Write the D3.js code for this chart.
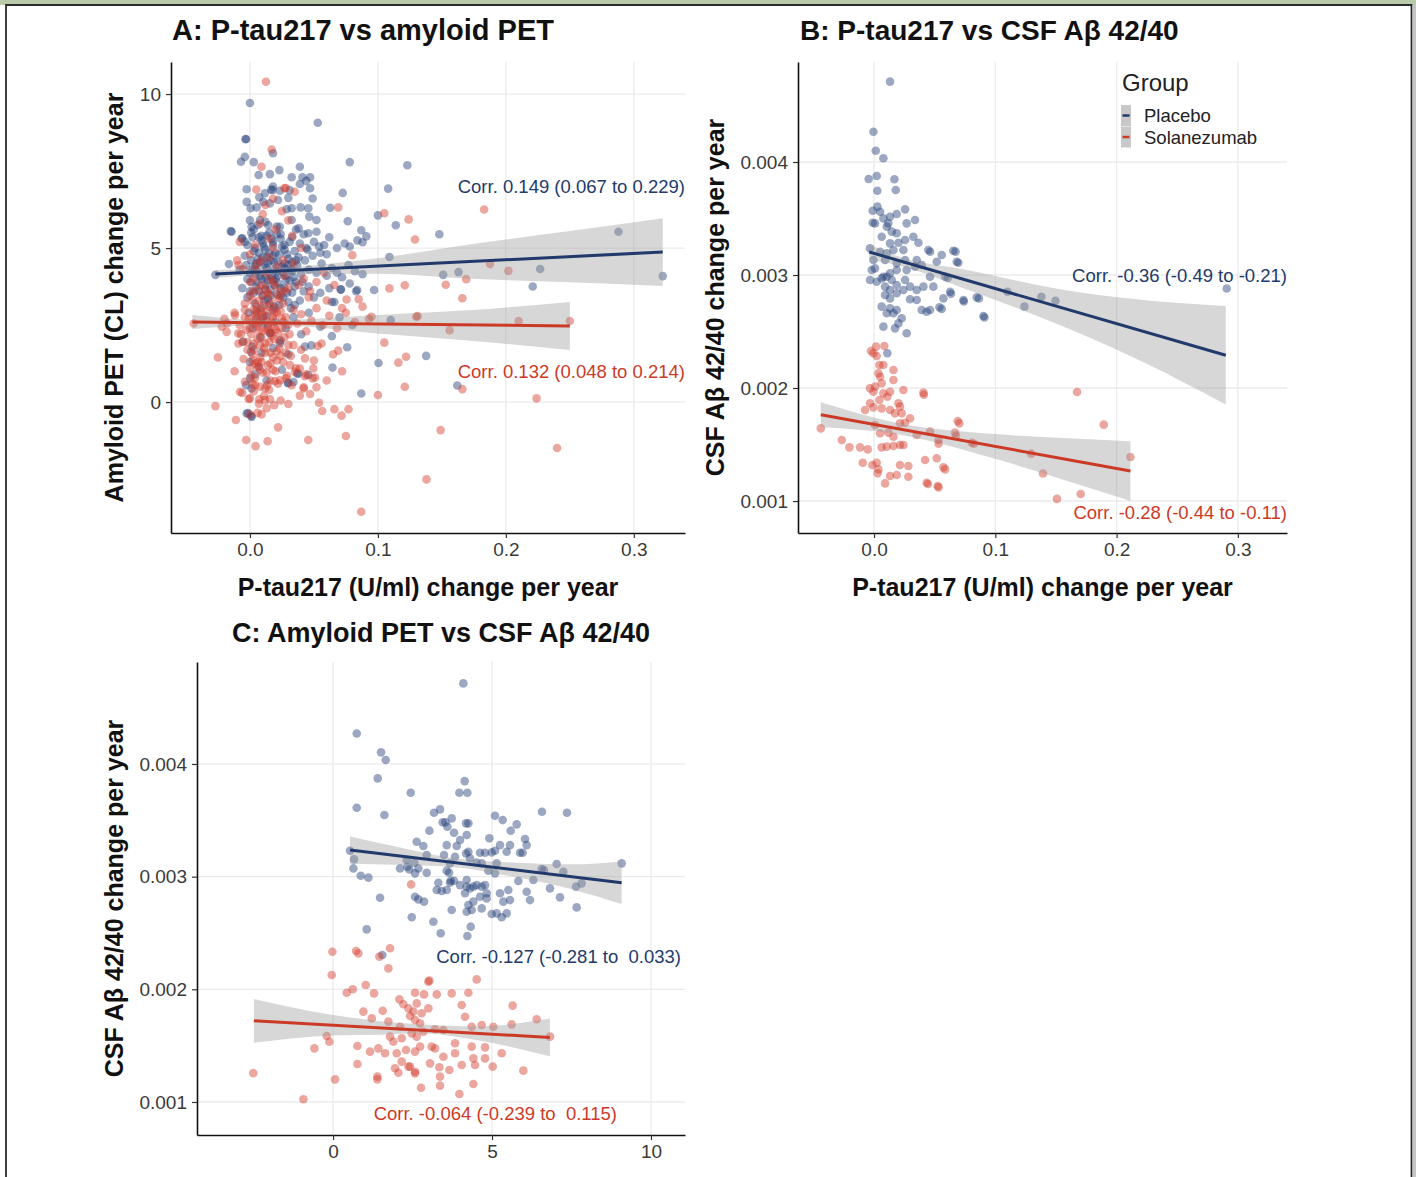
<!DOCTYPE html>
<html>
<head>
<meta charset="utf-8">
<script src="https://cdn.jsdelivr.net/npm/d3@7"></script>
<style>
  body { margin: 0; background: #fff; }
  svg { display: block; font-family: "Liberation Sans", Arial, Helvetica, sans-serif; }
</style>
</head>
<body>
<svg id="chart" width="1416" height="1177"></svg>
<script>
// ── data: panel A (P-tau217 change vs amyloid PET change) ──
const placeboA = [
  [0.0,9.71],[0.053,9.07],[-0.0035,8.53],[0.123,7.69],[0.078,7.79],[0.108,6.93],[0.100,6.06],[0.114,5.74],
  [0.0725,6.79],[0.0627,6.31],[0.0764,5.87],[0.087,5.58],[0.091,5.38],[0.088,5.19],[0.148,5.45],[0.288,5.53],
  [0.3226,4.09],[0.2268,4.32],[0.221,3.75],[0.163,4.22],[0.151,4.13],[0.109,4.71],[0.097,3.64],[0.0838,3.64],
  [0.071,3.66],[0.064,3.25],[0.11,2.66],[0.1377,1.50],[0.1005,1.27],[0.0645,1.12],[0.162,0.54],[0.087,0.28],
  [0.076,1.78],[0.064,2.14],[0.048,1.84],[0.0377,0.92],[0.0295,0.63],[-0.0015,-0.36],[0.001,-0.45],
  [-0.0164,4.48],[-0.015,5.55],[-0.027,4.13],[-0.006,5.32],
  [-0.003,8.54],[-0.004,7.96],[-0.007,7.80],[0.003,7.79],[0.018,8.08],[0.0068,7.37],[0.0156,7.40],[0.023,7.53],
  [0.0166,6.9],[0.018,7.0],[0.0326,7.30],[0.039,7.64],[0.041,7.30],[0.047,7.30],[-0.0026,6.91],[0.0073,6.65],
  [0.0117,6.78],[0.0177,6.88],[0.0234,6.86],[0.030,6.63],[0.031,6.88],[0.039,7.08],[0.044,7.18],[0.047,6.94],
  [0.049,6.61],[-0.0026,6.50],[0.0005,6.29],[0.0052,6.32],[0.0104,6.50],[0.0156,6.45],[0.022,6.56],[0.0287,6.26],
  [0.0326,6.29],[0.0396,6.32],[0.0456,6.29],[0.0464,6.02],[0.052,5.91],[-0.0143,5.53],[-0.0065,5.31],[0.0013,5.69],
  [0.0078,5.91],[0.0143,5.75],[0.0234,5.69],[0.0326,5.91],[0.038,5.64],[0.0456,5.48],[0.052,5.53],
  [0.0,5.9],[0.003,5.6],[0.006,5.75],[0.009,5.4],[0.012,5.85],[0.015,5.5],[0.018,5.2],[0.021,5.7],[0.024,5.45],
  [0.027,5.1],[0.033,5.35],[0.036,5.6],[0.039,5.15],[0.042,5.45],[0.05,5.2],[0.054,5.05],[0.058,5.1],[0.062,5.35],
  [0.068,5.0],[0.074,5.15],[0.078,5.05],[0.084,5.25],[-0.002,5.1],[0.011,5.05],[0.044,5.0],
  [-0.008,4.3],[-0.004,4.75],[0.0,4.2],[0.003,4.9],[0.005,4.5],[0.008,4.1],[0.01,4.7],[0.013,4.35],[0.015,4.85],
  [0.017,4.05],[0.019,4.55],[0.021,4.25],[0.023,4.8],[0.025,4.4],[0.028,4.1],[0.03,4.65],[0.032,4.3],[0.035,4.9],
  [0.037,4.45],[0.04,4.15],[0.043,4.6],[0.046,4.3],[0.049,4.75],[0.052,4.2],[0.056,4.5],[0.06,4.1],[0.064,4.35],
  [0.068,4.2],[0.072,4.05],[0.077,4.45],[0.082,4.25],[0.088,4.15],[0.06,4.8],[0.012,4.95],[0.006,4.25],[0.027,4.95],
  [0.045,4.95],[0.055,4.85],
  [0.001,4.6],[0.004,4.15],[0.007,4.85],[0.011,4.45],[0.014,3.95],[0.016,4.6],[0.018,5.1],[0.02,4.0],[0.022,4.55],
  [0.026,4.2],[0.029,4.8],[0.031,3.95],[0.033,4.55],[0.009,5.25],[0.013,5.4],[0.024,5.3],[0.005,3.75],[0.01,3.45],
  [0.015,3.2],[0.021,3.5],[0.028,3.95],[0.038,4.7],[0.041,3.9],[0.002,5.35],[-0.003,4.45],[0.019,4.3],[0.027,4.5],
  [0.006,4.65],[0.034,4.05],[0.012,4.05],
  [0.002,4.3],[0.004,5.0],[0.006,3.9],[0.008,4.55],[0.01,5.15],[0.012,3.65],[0.013,4.7],[0.015,4.2],[0.017,5.3],
  [0.019,3.8],[0.02,4.85],[0.022,4.1],[0.024,3.7],[0.025,5.05],[0.027,4.35],[0.029,3.55],[0.031,5.2],[0.033,4.25],
  [0.035,3.75],[0.036,4.6],[0.0,3.6],[-0.002,4.0],[-0.004,5.2],[0.001,5.5],[0.007,5.35],[0.011,3.3],[0.016,3.45],
  [0.023,3.15],[0.004,4.4],[0.009,4.0],[0.014,4.5],[0.018,4.75],[0.021,5.45],[0.026,3.4],[0.03,4.45],[0.032,3.05],
  [0.005,2.95],[0.01,2.75],[0.014,2.5],[0.018,3.0],
  [-0.006,3.7],[-0.002,3.4],[0.001,3.9],[0.004,3.2],[0.007,3.6],[0.009,3.05],[0.012,3.8],[0.014,3.35],[0.016,3.65],
  [0.019,3.1],[0.022,3.85],[0.024,3.45],[0.027,3.7],[0.03,3.25],[0.033,3.55],[0.036,3.9],[0.039,3.3],[0.042,3.6],
  [0.046,3.75],[0.05,3.4],[0.055,3.55],[0.062,3.7],[0.066,3.25],[0.071,3.65],[0.078,3.85],[0.083,3.6],[0.003,3.55],
  [0.018,3.95],[0.035,3.15],
  [-0.001,2.9],[0.002,2.4],[0.005,2.7],[0.008,2.1],[0.01,2.55],[0.013,2.8],[0.016,2.25],[0.02,2.6],[0.024,2.0],
  [0.028,2.4],[0.034,2.75],[0.04,2.2],[0.046,2.9],[0.055,2.45],[0.07,2.75],[0.08,2.5],[0.002,1.8],[0.009,1.6],
  [0.018,1.75],[0.03,1.55],
  [0.0,1.3],[0.004,0.9],[0.007,1.15],[-0.003,0.55],[0.013,0.7],[0.025,1.05],[0.034,0.65],
  [-0.0052,1.96],[0.0008,1.63],[0.0156,2.23],[0.0234,1.91],[0.030,0.61],[0.037,0.93],[0.043,1.80],[0.0456,0.88],
  [0.0,0.77],[0.0013,0.44],[-0.0026,-0.37],[0.0013,-0.48]
];
const solaA = [
  [0.0125,10.40],[0.017,8.20],[0.009,7.64],[0.027,6.94],[0.035,6.83],[0.069,6.32],[0.105,6.13],[0.124,5.93],
  [0.129,5.28],[0.080,4.77],[0.109,3.69],[0.121,3.79],[0.0755,3.33],[0.085,3.34],[0.130,2.77],[0.095,2.77],
  [0.105,1.93],[0.116,1.28],[0.122,1.47],[0.121,0.50],[0.100,0.23],[-0.025,1.45],[-0.027,-0.13],[-0.011,-0.58],
  [-0.003,-1.23],[0.0044,-1.43],[0.0138,-1.27],[0.022,-0.82],[0.0456,-1.23],[0.075,-1.10],[0.0565,-0.29],
  [0.066,-0.23],[0.0716,-0.44],[0.077,-0.23],[0.054,-0.02],[0.039,0.21],[0.047,0.26],[0.030,-0.06],[0.069,1.67],
  [0.053,1.82],[0.043,1.42],[0.049,0.77],[0.042,0.44],[0.087,-3.56],[0.138,-2.51],[-0.044,2.55],[-0.022,2.45],
  [-0.009,4.45],[0.183,6.25],[0.1876,4.48],[0.202,4.26],[0.153,3.81],[0.169,3.99],[0.166,3.37],[0.131,2.79],
  [0.156,2.33],[0.21,2.63],[0.250,2.63],[0.166,0.42],[0.224,0.12],[0.149,-0.91],[0.240,-1.49],
  [-0.0078,0.33],[0.0,0.12],[0.0073,0.09],[0.0091,-0.40],[0.0117,0.06],[0.0156,0.09],[0.042,0.48],[0.052,0.48],
  [-0.0039,0.66],[0.0039,0.55],[0.0135,0.55],[0.0195,0.68],[0.0234,0.71],[0.0281,0.77],[0.0352,0.98],[0.039,1.09],
  [0.043,0.84],[0.0508,0.80],[0.0495,1.09],[0.0313,1.20],[0.0326,0.55],[-0.0117,2.82],[-0.0182,2.28],[-0.0091,2.23],
  [0.005,6.9],[0.012,6.4],[0.018,6.6],[0.025,6.2],[0.008,5.8],[0.02,5.6],[0.03,5.9],[0.015,5.3],[0.004,5.1],
  [0.033,5.4],[0.04,5.0],[-0.008,5.2],[0.01,6.1],[0.028,6.95],
  [-0.01,4.6],[-0.005,4.3],[0.0,4.8],[0.003,4.0],[0.006,4.5],[0.009,3.8],[0.012,4.2],[0.015,4.7],[0.018,3.9],
  [0.021,4.4],[0.024,3.6],[0.027,4.1],[0.03,3.7],[0.034,4.5],[0.038,3.8],[0.042,4.0],[0.047,3.6],[0.052,3.9],
  [0.058,4.2],[0.002,3.6],[0.014,3.55],[0.02,3.75],[0.066,3.8],
  [-0.012,2.9],[-0.008,2.5],[-0.004,3.2],[-0.001,2.7],[0.001,2.2],[0.003,3.0],[0.005,2.45],[0.007,3.3],[0.009,2.1],
  [0.011,2.8],[0.013,2.35],[0.015,3.1],[0.017,2.6],[0.019,2.05],[0.021,2.9],[0.023,3.35],[0.025,2.4],[0.028,2.75],
  [0.031,2.2],[0.034,3.0],[0.037,2.55],[0.04,2.85],[0.044,2.3],[0.048,2.65],[0.052,3.05],[0.057,2.5],[0.062,2.8],
  [0.068,2.4],[0.075,2.9],[0.082,2.6],[0.088,3.1],[0.093,2.7],[-0.018,2.55],[-0.02,2.7],[0.004,2.85],[0.008,2.65],
  [0.016,2.25],[0.026,3.2],[0.046,3.4],[0.06,3.3],[0.072,3.05],[0.0,3.45],
  [0.001,2.6],[0.003,1.9],[0.005,3.1],[0.007,2.3],[0.009,2.9],[0.011,1.75],[0.013,2.65],[0.015,1.95],[0.017,3.25],
  [0.019,2.45],[0.021,1.65],[0.024,2.95],[0.027,2.1],[-0.003,2.35],[-0.006,1.95],[0.002,1.35],[0.006,2.05],
  [0.01,3.45],[0.014,2.95],[0.018,2.75],[0.022,2.25],[0.026,2.6],[0.03,1.85],[0.004,2.55],[0.008,1.45],[0.016,1.25],
  [0.012,3.7],[0.0,3.9],[-0.004,2.75],[0.02,3.05],
  [0.0,2.4],[0.002,3.3],[0.003,1.7],[0.005,2.8],[0.006,1.15],[0.007,2.55],[0.008,3.0],[0.009,1.3],[0.01,2.3],
  [0.011,3.15],[0.012,1.9],[0.013,0.95],[0.014,2.4],[0.015,3.5],[0.016,1.6],[0.017,2.15],[0.018,1.05],[0.019,2.85],
  [0.02,2.35],[0.021,1.35],[0.022,3.45],[0.023,2.0],[0.024,1.5],[0.025,2.7],[0.027,3.6],[0.028,1.6],[0.03,2.5],
  [-0.002,1.95],[-0.004,3.0],[-0.007,2.2],[0.001,0.85],[0.004,1.25],[0.006,3.65],[0.008,0.5],[0.012,0.45],
  [0.016,4.0],[0.004,4.3],[0.009,4.6],[0.018,5.0],[0.026,4.6],
  [-0.009,1.9],[-0.005,1.4],[-0.002,1.7],[0.0,1.1],[0.002,1.55],[0.004,0.8],[0.006,1.3],[0.008,1.85],[0.01,0.95],
  [0.012,1.6],[0.014,1.2],[0.016,0.7],[0.018,1.45],[0.02,1.0],[0.023,1.75],[0.026,1.3],[0.029,0.85],[0.032,1.5],
  [0.036,1.1],[0.04,1.7],[0.044,0.9],[0.05,1.35],[0.056,1.9],[0.06,0.7],[0.065,1.55],[0.072,1.0],[0.002,0.6],
  [0.008,1.05],[0.022,0.6],[-0.012,1.0],[0.034,1.85],
  [-0.006,0.3],[-0.001,0.1],[0.003,0.35],[0.007,-0.05],[0.011,0.2],[0.015,0.4],[0.019,-0.1],[0.024,0.05],
  [0.006,-0.35],[0.0,-0.4],[0.013,-0.2]
];
const fitPlaceboA = [[-0.027,4.156],[0.3226,4.87]];
const bandPlaceboA = [[-0.027,4.03,4.29],[0.02,4.15,4.35],[0.1,4.17,4.67],[0.17,4.01,5.11],[0.25,3.89,5.55],[0.3226,3.77,5.97]];
const fitSolaA = [[-0.045,2.60],[0.25,2.47]];
const bandSolaA = [[-0.045,2.37,2.83],[0.015,2.50,2.66],[0.1,2.23,2.83],[0.17,2.0,2.98],[0.25,1.69,3.25]];

// ── data: panel B (P-tau217 change vs CSF Aβ42/40 change) ──
const placeboB = [
  [0.0132,0.004711],[-0.0005,0.004268],[0.0014,0.0041],[0.0077,0.004033],[-0.0044,0.00385],[0.0022,0.003876],
  [0.0168,0.003847],[0.0179,0.003752],[0.0027,0.003746],
  [-0.0011,0.003569],[0.0028,0.003605],[0.005,0.00356],[0.0008,0.003457],[-0.0011,0.003462],[0.0077,0.003501],
  [0.0132,0.003516],[0.0118,0.003457],[0.0187,0.00354],[0.0256,0.003581],[0.0338,0.003487],[0.0269,0.003457],
  [0.0146,0.003384],[0.0105,0.003428],[0.0063,0.003339],[0.0187,0.003369],[0.0256,0.00331],[0.0324,0.003339],
  [0.0366,0.003286],[0.0201,0.003286],[0.0132,0.00328],
  [-0.0033,0.003236],[0.005,0.003206],[-0.0005,0.003133],[0.0105,0.003192],[0.016,0.003221],[0.0242,0.003221],
  [0.0256,0.003133],[0.0187,0.003104],[0.0091,0.003133],[-0.0019,0.003044],[0.0008,0.003059],[0.0077,0.002985],
  [0.0132,0.003015],[0.0187,0.003044],[0.0269,0.003044],[0.0338,0.003074],[0.0448,0.003221],[0.0462,0.003206],
  [0.0558,0.003177],[0.0654,0.003215],[0.0682,0.003118],[0.0517,0.003118],[0.0586,0.002985],[0.0462,0.002985],
  [0.0352,0.003133],[0.0393,0.003089],
  [-0.0033,0.002956],[0.0022,0.002941],[0.0063,0.00297],[0.0105,0.002985],[0.0146,0.002956],[0.0091,0.002897],
  [0.0132,0.002867],[0.0187,0.002912],[0.0256,0.002956],[0.0297,0.002897],[0.0352,0.002867],[0.0407,0.002897],
  [0.0489,0.002897],[0.0627,0.002852],[0.0737,0.002779],[0.0847,0.002802],[0.0902,0.002637],[0.0572,0.002793],
  [0.0539,0.002714],[0.0462,0.00269],[0.0434,0.002675],[0.0393,0.00269],[0.0352,0.002779],[0.0297,0.002785],
  [0.0242,0.002867],[0.0187,0.002838],[0.0132,0.002793],[0.0091,0.002823],[0.0063,0.00272],[0.0132,0.002705],
  [0.0105,0.002661],[0.016,0.002661],[0.0187,0.00269],[0.0228,0.002617],[0.0201,0.002572],[0.0173,0.002528],
  [0.0269,0.002484],[0.0077,0.002543],[0.011,0.002307],
  [0.110,0.002852],[0.124,0.00272],[0.138,0.002807],[0.1496,0.002772],[0.2908,0.002881],[0.0865,0.002793],
  [0.091,0.002624],[0.0635,0.002834],[0.0558,0.0027],[0.074,0.002765],[0.0672,0.003207],[0.0695,0.003109],
  [0.0608,0.002975]
];
const solaB = [
  [-0.0439,0.001643],[-0.0266,0.00154],[-0.0203,0.001475],[-0.0115,0.001475],[-0.0052,0.001457],[-0.0093,0.001339],
  [-0.0014,0.001319],[0.0022,0.001339],[0.0036,0.00128],[0.003,0.001245],[0.0091,0.001156],[0.0132,0.001221],
  [0.0187,0.00123],[0.0283,0.00131],[0.0214,0.001319],[0.0283,0.001215],[0.0434,0.001162],[0.0525,0.001133],
  [0.0572,0.001298],[0.0517,0.001378],[0.0421,0.001363],[0.0105,0.001481],[0.0063,0.001475],[0.016,0.001487],
  [0.0214,0.001496],[0.0242,0.001496],[0.0008,0.001673],[0.005,0.001599],[0.0118,0.001605],[0.016,0.001569],
  [0.0214,0.001688],[0.0297,0.001732],[0.0352,0.001584],[0.0462,0.001614],[0.0531,0.00154],[0.0668,0.001605],
  [0.0806,0.001516],[0.069,0.001708],[0.0256,0.001693],[0.0173,0.001776],[0.0132,0.001805],[0.0063,0.00182],
  [-0.0005,0.001829],[-0.0074,0.001805],[-0.0033,0.001865],[0.0044,0.001894],[0.0077,0.001953],[0.0132,0.001967],
  [-0.0005,0.001967],[0.0008,0.002012],[-0.0033,0.001997],[0.016,0.002071],[0.0242,0.001982],[0.0201,0.001865],
  [0.0214,0.001835],[0.0407,0.001959],[0.0228,0.001776],[0.016,0.002159],[0.0036,0.00213],[0.005,0.0021],
  [0.0077,0.002204],[-0.0005,0.002307],[-0.0025,0.002327],[0.0016,0.002366],[0.0085,0.002372],[0.0022,0.002283],
  [0.0044,0.002204],[0.0063,0.002042],[0.011,0.001923],
  [0.1674,0.001965],[0.1894,0.001676],[0.2114,0.001389],[0.1296,0.001419],[0.1393,0.001244],[0.1508,0.001019],
  [0.1704,0.001062],[0.0824,0.001507],[0.0703,0.001687],[0.0676,0.001578],[0.0532,0.001507],[0.0532,0.001121],
  [0.0586,0.00128],[0.0445,0.00115],[0.0411,0.00194]
];
const fitPlaceboB = [[-0.004,0.003204],[0.29,0.00229]];
const bandPlaceboB = [[-0.004,0.003134,0.003274],[0.02,0.003085,0.003165],[0.08,0.002858,0.003038],[0.15,0.00257,0.00288],[0.22,0.00224,0.00278],[0.29,0.001855,0.002725]];
const fitSolaB = [[-0.0439,0.001764],[0.2114,0.001265]];
const bandSolaB = [[-0.0439,0.001654,0.001874],[0.02,0.001589,0.001689],[0.1,0.001373,0.001593],[0.16,0.001175,0.001555],[0.2114,0.001,0.00153]];

// ── data: panel C (amyloid PET change vs CSF Aβ42/40 change) ──
const placeboC = [
  [4.098,0.004715],[0.744,0.004271],[1.509,0.004103],[1.656,0.004035],[1.404,0.003872],[2.442,0.003745],
  [3.973,0.003745],[4.224,0.003745],[4.14,0.003848],[0.744,0.003612],[1.614,0.003547],[6.572,0.003576],
  [7.358,0.003567],[3.176,0.003567],[3.365,0.003597],[3.448,0.003482],[3.532,0.003482],[3.731,0.003517],
  [3.595,0.003443],[3.805,0.00339],[3.994,0.003325],[4.182,0.003473],[4.256,0.003473],[4.203,0.003369],
  [3.029,0.003408],[2.631,0.00331],[2.84,0.003272],[5.094,0.003541],[5.335,0.003502],[5.776,0.003464],
  [5.587,0.003408],[4.916,0.00334],[5.251,0.00328],[5.566,0.00328],[6.038,0.003334],[6.09,0.00328],
  [5.88,0.003212],[5.964,0.003212],[5.461,0.003221],[5.094,0.00323],[4.989,0.003215],[4.78,0.003212],
  [4.622,0.003212],[4.256,0.003221],[4.182,0.003206],[4.308,0.003162],[4.518,0.003124],[4.675,0.003118],
  [5.146,0.003118],[4.884,0.003053],[3.574,0.00328],[3.49,0.003192],[2.945,0.003192],[2.557,0.003124],
  [2.337,0.003088],[2.4,0.003064],[2.107,0.003073],[0.534,0.00323],[0.66,0.003153],[0.639,0.003073],
  [0.87,0.003008],[1.111,0.002991],[1.478,0.002813],[2.578,0.003029],[2.578,0.002822],[2.683,0.002798],
  [2.861,0.002778],[3.312,0.002946],[3.26,0.002881],[3.417,0.002872],[3.574,0.002881],[3.679,0.002946],
  [3.805,0.002964],[3.994,0.002925],[4.203,0.00297],[4.203,0.002911],[4.151,0.002852],[4.308,0.002896],
  [4.413,0.002911],[4.518,0.002925],[4.675,0.002911],[4.78,0.002925],[4.832,0.002852],[5.094,0.003029],
  [5.251,0.002852],[5.513,0.002881],[5.566,0.002792],[5.356,0.002778],[4.832,0.002807],[4.622,0.002822],
  [4.413,0.002778],[4.256,0.002748],[4.203,0.002689],[4.36,0.002704],[4.675,0.002718],[4.989,0.002668],
  [5.146,0.002674],[5.304,0.002639],[5.461,0.002674],[3.731,0.002704],[3.155,0.0026],[2.474,0.002639],
  [3.386,0.002497],[4.224,0.002473],[4.329,0.002556],[1.058,0.002532],[1.551,0.002304],[5.828,0.002961],
  [6.3,0.00297],[6.09,0.002866],[6.195,0.002792],[6.562,0.003067],[6.635,0.003059],[7.033,0.003112],
  [7.243,0.003044],[6.824,0.002896],[7.138,0.002816],[7.662,0.002727],[7.641,0.002911],[7.819,0.00294],
  [9.077,0.003118],[3.574,0.003053],[3.679,0.003118],[3.836,0.003177],[3.889,0.003272],[2.945,0.003035],
  [2.683,0.003073],[2.316,0.003147],[3.648,0.003035],[3.7,0.002964]
];
const solaC = [
  [-0.021,0.002334],[0.796,0.002319],[0.723,0.00234],[1.457,0.00229],[1.792,0.002364],[1.74,0.002186],
  [-0.042,0.002127],[0.43,0.00197],[0.618,0.002],[1.027,0.002038],[1.289,0.001964],[0.954,0.001802],
  [1.216,0.001742],[1.562,0.00181],[1.74,0.001713],[2.086,0.001911],[2.211,0.001867],[2.369,0.001831],
  [2.578,0.00197],[2.861,0.001955],[2.998,0.002068],[3.26,0.001955],[3.029,0.002077],[2.631,0.001875],
  [2.526,0.001802],[2.421,0.001763],[2.578,0.001728],[2.736,0.001698],[2.788,0.001787],[2.998,0.001831],
  [2.107,0.001668],[2.159,0.001565],[1.792,0.00158],[1.897,0.001535],[2.474,0.001609],[2.631,0.00158],
  [2.84,0.001624],[3.207,0.001645],[3.469,0.001639],[3.731,0.001964],[4.046,0.001861],[4.256,0.00197],
  [4.518,0.002088],[4.151,0.001757],[3.836,0.001521],[4.36,0.001491],[4.78,0.001485],[4.36,0.001668],
  [4.675,0.001683],[5.042,0.001668],[5.618,0.001689],[5.65,0.001855],[6.404,0.001734],[6.824,0.00158],
  [-0.199,0.001586],[-0.116,0.001535],[-0.587,0.001476],[0.765,0.001497],[1.163,0.001447],[1.425,0.001476],
  [1.635,0.001432],[2.002,0.001432],[2.295,0.001461],[2.578,0.001447],[2.736,0.001491],[3.102,0.001491],
  [3.207,0.001476],[3.469,0.001402],[3.836,0.001432],[4.413,0.001387],[4.78,0.001387],[5.304,0.001432],
  [2.159,0.001358],[2.369,0.001314],[2.421,0.001314],[2.578,0.001269],[2.578,0.001254],[3.05,0.001343],
  [3.344,0.001308],[3.658,0.001284],[4.046,0.001328],[4.465,0.001328],[5.021,0.001314],[5.985,0.001278],
  [3.365,0.001225],[3.365,0.001145],[2.767,0.001127],[1.394,0.001225],[1.394,0.001201],[1.949,0.001299],
  [2.054,0.00126],[0.765,0.001337],[0.063,0.001201],[4.413,0.00116],[3.973,0.001071],[-0.933,0.001024],
  [-2.51,0.001256],[2.453,0.002931]
];
const fitPlaceboC = [[0.534,0.003236],[9.077,0.002946]];
const bandPlaceboC = [[0.534,0.003115,0.003357],[2,0.003106,0.003266],[3.7,0.003088,0.003168],[5.5,0.003007,0.003127],[7.5,0.002889,0.003109],[9.077,0.002757,0.003135]];
const fitSolaC = [[-2.49,0.00172],[6.82,0.001573]];
const bandSolaC = [[-2.49,0.001526,0.001914],[0,0.001591,0.001771],[1.5,0.001597,0.001717],[2.7,0.00161,0.00169],[4.5,0.00155,0.00167],[6.82,0.001405,0.001741]];

// tick values
const ptauTicks = [0, 0.1, 0.2, 0.3];
const petTicks = [0, 5, 10];
const csfTicks = [0.001, 0.002, 0.003, 0.004];

const groups = ["Placebo", "Solanezumab"];
const corrLabels = {
  A: ["Corr. 0.149 (0.067 to 0.229)", "Corr. 0.132 (0.048 to 0.214)"],
  B: ["Corr. -0.36 (-0.49 to -0.21)", "Corr. -0.28 (-0.44 to -0.11)"],
  C: ["Corr. -0.127 (-0.281 to  0.033)", "Corr. -0.064 (-0.239 to  0.115)"]
};

// ═══════════════════════════════════════════
const BLUE = "#233f78";
const RED = "#d23a2a";
const BLUE_LINE = "#213a6b";
const RED_LINE = "#cc3a27";

const svg = d3.select("#chart");

// page frame
svg.append("rect").attr("x", 0).attr("y", 0).attr("width", 1416).attr("height", 5).attr("fill", "#b9cba9");
svg.append("rect").attr("x", 1413).attr("y", 5).attr("width", 3).attr("height", 1172).attr("fill", "#c4c4c4");
svg.append("path")
  .attr("d", "M6,1177 V5 H1411.5 V1177")
  .attr("fill", "none").attr("stroke", "#2a2a2a").attr("stroke-width", 1.8);

function drawPanel(p) {
  const x = d3.scaleLinear().domain(p.xDomain).range([p.left, p.right]);
  const y = d3.scaleLinear().domain(p.yDomain).range([p.bottom, p.top]);
  const g = svg.append("g");

  // grid
  g.selectAll(null).data(p.xTicks).join("line")
    .attr("x1", d => x(d)).attr("x2", d => x(d))
    .attr("y1", p.top).attr("y2", p.bottom)
    .attr("stroke", "#ebebeb").attr("stroke-width", 1.3);
  g.selectAll(null).data(p.yTicks).join("line")
    .attr("x1", p.left).attr("x2", p.right)
    .attr("y1", d => y(d)).attr("y2", d => y(d))
    .attr("stroke", "#ebebeb").attr("stroke-width", 1.3);

  // points
  p.series.forEach(s => {
    g.append("g").selectAll("circle").data(s.points).join("circle")
      .attr("cx", d => x(d[0])).attr("cy", d => y(d[1]))
      .attr("r", 4.3)
      .attr("fill", s.color).attr("fill-opacity", 0.45);
  });

  // confidence bands
  const area = d3.area()
    .x(d => x(d[0])).y0(d => y(d[1])).y1(d => y(d[2]))
    .curve(d3.curveMonotoneX);
  p.series.forEach(s => {
    g.append("path").datum(s.band).attr("d", area)
      .attr("fill", "#9a9a9a").attr("fill-opacity", 0.4);
  });

  // fitted lines
  const line = d3.line().x(d => x(d[0])).y(d => y(d[1]));
  p.series.forEach(s => {
    g.append("path").datum(s.fit).attr("d", line)
      .attr("fill", "none").attr("stroke", s.lineColor).attr("stroke-width", 3);
  });

  // axes
  const xa = g.append("g").attr("transform", `translate(0,${p.bottom})`)
    .call(d3.axisBottom(x).tickValues(p.xTicks).tickFormat(p.xFormat).tickSize(5).tickSizeOuter(0).tickPadding(5));
  const ya = g.append("g").attr("transform", `translate(${p.left},0)`)
    .call(d3.axisLeft(y).tickValues(p.yTicks).tickFormat(p.yFormat).tickSize(5).tickSizeOuter(0).tickPadding(5));
  [xa, ya].forEach(a => {
    a.select(".domain").attr("stroke", "#111").attr("stroke-width", 1.6);
    a.selectAll(".tick line").attr("stroke", "#333").attr("stroke-width", 1.2);
    a.selectAll(".tick text").attr("font-size", 19).attr("fill", "#3a3a3a")
      .attr("font-family", "Liberation Sans, Arial, sans-serif");
  });

  // title
  g.append("text")
    .attr("x", p.titleX).attr("y", p.titleY)
    .attr("text-anchor", p.titleAnchor)
    .attr("font-size", p.titleSize).attr("font-weight", "bold").attr("fill", "#111")
    .text(p.title);

  // axis titles
  if (p.xTitle) {
    g.append("text")
      .attr("x", (p.left + p.right) / 2).attr("y", p.bottom + 63)
      .attr("text-anchor", "middle")
      .attr("font-size", 25).attr("font-weight", "bold").attr("fill", "#111")
      .text(p.xTitle);
  }
  g.append("text")
    .attr("transform", `translate(${p.yTitleX},${(p.top + p.bottom) / 2}) rotate(-90)`)
    .attr("text-anchor", "middle")
    .attr("font-size", 25).attr("font-weight", "bold").attr("fill", "#111")
    .text(p.yTitle);

  // correlation annotations
  p.series.forEach((s, i) => {
    g.append("text")
      .attr("x", p.corr[i].x).attr("y", p.corr[i].y)
      .attr("text-anchor", p.corr[i].anchor)
      .attr("font-size", 18.5).attr("fill", s.lineColor)
      .style("white-space", "pre")
      .text(s.label);
  });
}

drawPanel({
  title: "A: P-tau217 vs amyloid PET", titleX: 172, titleY: 40, titleAnchor: "start", titleSize: 29,
  left: 171, right: 685, top: 62, bottom: 533,
  xDomain: [-0.0617, 0.34], yDomain: [-4.25, 11.04],
  xTicks: ptauTicks, yTicks: petTicks,
  xFormat: d3.format(".1f"), yFormat: d3.format("d"),
  xTitle: "P-tau217 (U/ml) change per year",
  yTitle: "Amyloid PET (CL) change per year", yTitleX: 123,
  corr: [{ x: 685, y: 193, anchor: "end" }, { x: 685, y: 378, anchor: "end" }],
  series: [
    { points: placeboA, band: bandPlaceboA, fit: fitPlaceboA, color: BLUE, lineColor: BLUE_LINE, label: corrLabels.A[0] },
    { points: solaA, band: bandSolaA, fit: fitSolaA, color: RED, lineColor: RED_LINE, label: corrLabels.A[1] }
  ]
});

drawPanel({
  title: "B: P-tau217 vs CSF A\u03b2 42/40", titleX: 800, titleY: 40, titleAnchor: "start", titleSize: 28,
  left: 798, right: 1287, top: 62, bottom: 533,
  xDomain: [-0.0627, 0.3405], yDomain: [0.000717, 0.004885],
  xTicks: ptauTicks, yTicks: csfTicks,
  xFormat: d3.format(".1f"), yFormat: d3.format(".3f"),
  xTitle: "P-tau217 (U/ml) change per year",
  yTitle: "CSF A\u03b2 42/40 change per year", yTitleX: 724,
  corr: [{ x: 1287, y: 282, anchor: "end" }, { x: 1287, y: 519, anchor: "end" }],
  series: [
    { points: placeboB, band: bandPlaceboB, fit: fitPlaceboB, color: BLUE, lineColor: BLUE_LINE, label: corrLabels.B[0] },
    { points: solaB, band: bandSolaB, fit: fitSolaB, color: RED, lineColor: RED_LINE, label: corrLabels.B[1] }
  ]
});

drawPanel({
  title: "C: Amyloid PET vs CSF A\u03b2 42/40", titleX: 441, titleY: 642, titleAnchor: "middle", titleSize: 27,
  left: 197, right: 685, top: 662, bottom: 1135,
  xDomain: [-4.28, 11.07], yDomain: [0.000707, 0.004905],
  xTicks: petTicks, yTicks: csfTicks,
  xFormat: d3.format("d"), yFormat: d3.format(".3f"),
  xTitle: null,
  yTitle: "CSF A\u03b2 42/40 change per year", yTitleX: 123,
  corr: [{ x: 681, y: 963, anchor: "end" }, { x: 617, y: 1120, anchor: "end" }],
  series: [
    { points: placeboC, band: bandPlaceboC, fit: fitPlaceboC, color: BLUE, lineColor: BLUE_LINE, label: corrLabels.C[0] },
    { points: solaC, band: bandSolaC, fit: fitSolaC, color: RED, lineColor: RED_LINE, label: corrLabels.C[1] }
  ]
});

// legend (inside panel B)
const legend = svg.append("g").attr("transform", "translate(1121,0)");
legend.append("text").attr("x", 1).attr("y", 91)
  .attr("font-size", 24).attr("fill", "#222").text("Group");
const keys = legend.selectAll("g.key").data(groups).join("g")
  .attr("class", "key")
  .attr("transform", (d, i) => `translate(0,${105 + i * 21.5})`);
keys.append("rect").attr("width", 10).attr("height", 21).attr("fill", "#9a9a9a").attr("fill-opacity", 0.55);
keys.append("line").attr("x1", 1.5).attr("x2", 8.5).attr("y1", 10.5).attr("y2", 10.5)
  .attr("stroke", (d, i) => i === 0 ? BLUE_LINE : RED_LINE).attr("stroke-width", 2.5);
keys.append("text").attr("x", 23).attr("y", 17)
  .attr("font-size", 18.5).attr("fill", "#222").text(d => d);
</script>
</body>
</html>
